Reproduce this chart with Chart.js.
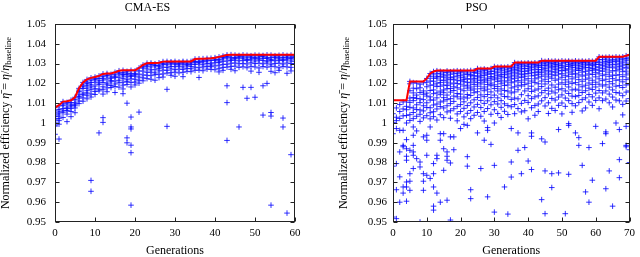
<!DOCTYPE html>
<html>
<head>
<meta charset="utf-8">
<script src="https://cdn.jsdelivr.net/npm/chart.js@4"></script>
<style>
html, body { margin: 0; padding: 0; background: #fff; }
#wrap { position: relative; width: 640px; height: 257px; }
.box { position: absolute; top: 0; width: 320px; height: 257px; }
</style>
</head>
<body>
<div id="wrap">
  <div class="box" style="left:0"><canvas id="cmaChart" width="320" height="257"></canvas></div>
  <div class="box" style="left:320px"><canvas id="psoChart" width="320" height="257"></canvas></div>
</div>
<script>
// values are in thousandths above 1.000 (e.g. 25 -> 1.025)

// CMA-ES: best so far, one per generation 0..60
const cmaBest = [
  7.7, 9.0, 10.8, 11.0, 11.5, 13.0, 17.5, 20.5, 22.0, 22.8,
  23.2, 23.8, 24.8, 25.0, 25.0, 25.6, 26.4, 26.6, 26.6, 26.6,
  26.6, 27.8, 29.3, 30.2, 30.3, 30.3, 30.4, 31.0, 31.1, 31.1,
  31.1, 31.1, 31.1, 31.1, 31.1, 32.3, 32.4, 32.5, 32.6, 32.7,
  33.0, 33.4, 33.8, 34.4, 34.5, 34.5, 34.5, 34.5, 34.5, 34.5,
  34.5, 34.5, 34.5, 34.5, 34.5, 34.5, 34.5, 34.5, 34.5, 34.5,
  34.5
];

// CMA-ES: population per generation
const cmaPop = [
  [7.7, 6.2, 4.1, 3.3, 1.6, 0.4, -1.1, -1.6, -5.7, 5.1, 2.4],
  [8.6, 6.8, 4.6, 2.2, 1.2, -0.6, -8.1, 5.6, 3.5],
  [10.8, 8.9, 7.3, 5.4, 2.8, 9.6, 6.1],
  [10.4, 9.7, 8.0, 6.3, 4.5, 0.7, 7.2],
  [11.5, 10.3, 9.1, 7.4, 5.8, 8.6, 3.2],
  [13.0, 11.8, 10.2, 8.7, 5.2, 9.5, 7.6],
  [17.5, 15.9, 14.2, 12.6, 11.1, 9.8, 16.6, 13.4],
  [20.5, 19.2, 17.4, 15.1, 14.3, 12.7, 11.0, 18.3],
  [22.0, 20.7, 18.8, 17.6, 15.2, 14.0, 12.2, 19.9, 16.3],
  [22.8, 21.6, 19.3, 18.2, 16.8, 14.7, 13.1, -29, -34.5, 20.4],
  [23.2, 21.9, 20.6, 18.7, 17.3, 15.9, 14.4, 22.4],
  [23.8, 22.5, 20.2, 19.4, 17.1, 16.2, -5, 21.3],
  [24.8, 23.4, 21.7, 20.5, 18.3, 16.8, 14.6, 2.7, 0.3, 22.6],
  [25.0, 23.9, 22.2, 20.1, 19.3, 17.7, 15.8, 24.2],
  [24.6, 23.2, 22.6, 20.8, 18.9, 17.9, 21.4],
  [25.6, 24.3, 22.9, 21.2, 19.7, 18.4, 15.4, 23.6],
  [26.4, 24.8, 23.1, 21.6, 20.3, 18.1, 25.3],
  [26.6, 25.4, 23.8, 22.4, 20.6, 19.1, 17.2, 14.8, 24.5],
  [26.1, 25.2, 23.3, 21.8, 20.9, 19.4, 10, -7.5, -10, 24.6],
  [26.6, 24.9, 23.6, 22.3, 20.4, 18.2, 3, -2, -3, -11.2, -41.5, -15, 24.1],
  [26.3, 25.1, 23.7, 22.1, 20.7, 19.2, 24.4],
  [27.8, 26.3, 24.7, 23.2, 21.6, 20.1, 5.5],
  [29.3, 27.8, 26.2, 24.3, 22.8, 21.3, 28.4],
  [30.2, 28.7, 27.3, 25.6, 24.1, 22.4, 29.3],
  [30.3, 28.3, 26.8, 25.7, 23.9, 22.1, 29.6],
  [29.9, 28.9, 27.1, 25.3, 24.4, 21.6, 29.2],
  [30.4, 29.1, 27.6, 26.3, 24.6, 22.9, 28.4],
  [31.0, 29.6, 28.2, 26.7, 24.8, 23.2, 30.1],
  [31.1, 29.4, 28.1, 26.6, 25.2, 17, -1.7, 30.4],
  [30.9, 29.9, 28.6, 27.3, 25.4, 24.1, 30.5],
  [31.1, 29.7, 28.4, 26.9, 25.7, 23.6, 30.3],
  [30.8, 30.1, 28.7, 27.2, 25.3, 29.4],
  [31.1, 29.8, 28.3, 27.1, 25.6, 23.4, 30.6],
  [31.0, 30.2, 28.9, 27.6, 26.1, 29.5],
  [31.1, 30.4, 28.6, 27.4, 25.9, 29.7],
  [32.3, 31.1, 29.6, 28.2, 26.6, 30.7],
  [32.4, 31.2, 29.8, 27.9, 26.7, 23, 30.6],
  [32.5, 31.4, 29.4, 28.3, 26.4, 30.9],
  [32.6, 31.3, 30.1, 28.6, 27.2, 31.9],
  [32.7, 31.6, 30.2, 28.4, 27.1, 29.3],
  [33.0, 31.7, 30.4, 28.8, 26.9, 32.2],
  [33.4, 32.1, 30.6, 29.2, 27.6, 25.8, 31.3],
  [33.8, 32.4, 31.2, 29.6, 28.1, 26.6, 33.1],
  [34.4, 32.9, 31.3, 29.7, 28.2, 18.8, 10.3, -8.8, 33.6],
  [34.5, 33.2, 31.6, 30.2, 28.6, 27.1, 32.3],
  [34.3, 33.1, 31.8, 30.3, 28.7, 26.4, 32.6],
  [34.1, 32.9, 31.4, 29.9, 28.1, -2, 33.5],
  [34.4, 32.7, 31.7, 30.1, 28.4, 18, 33.4],
  [34.2, 33.3, 31.5, 29.8, 27.9, 12.5, 32.1],
  [34.0, 32.8, 31.9, 30.4, 28.6, 26.2, 18, 33.4],
  [34.3, 33.1, 31.3, 30.0, 28.3, 13, 32.5],
  [34.2, 33.4, 31.8, 30.2, 27.8, 25.6, 32.4],
  [34.1, 32.7, 31.6, 29.9, 28.5, 18.8, 4, 33.6],
  [34.4, 33.0, 31.2, 30.3, 28.2, 20, 32.6],
  [34.3, 33.2, 31.6, 29.7, 28.7, 26.1, 5.3, 3.5, -41.5, 32.1],
  [34.0, 32.9, 31.4, 30.1, 28.4, 25.4, 33.3],
  [34.2, 33.3, 31.7, 30.2, 27.9, 26.6, 32.4],
  [34.4, 33.1, 31.5, 29.8, 28.6, 2.5, -2, 32.2],
  [34.1, 32.8, 31.9, 30.3, 28.3, 25.1, -45.5, 33.4],
  [34.3, 33.2, 31.3, 30.0, 28.1, 26.3, -16, 32.6],
  [34.2, 33.1, 32.2, 31.2, 30.1, 33.6]
];

// PSO: best so far, one per generation 0..70
const psoBest = [
  11.5, 11.5, 11.5, 11.5, 11.5, 21, 21, 21, 21, 21,
  22.5, 25, 26, 26.5, 26.5, 26.5, 26.5, 26.5, 26.5, 26.5,
  26.5, 26.5, 26.5, 26.5, 26.5, 27.5, 27.5, 27.5, 27.5, 27.5,
  28.5, 28.5, 28.5, 28.5, 28.5, 28.5, 30.5, 30.5, 30.5, 30.5,
  30.5, 30.5, 30.5, 30.5, 31.5, 31.5, 31.5, 31.5, 31.5, 31.5,
  31.5, 31.5, 31.5, 31.5, 31.5, 31.5, 31.5, 31.5, 31.5, 31.5,
  31.5, 33.4, 33.4, 33.4, 33.4, 33.4, 33.4, 33.4, 33.4, 34,
  34.5
];

// PSO: swarm per generation
const psoPop = [
  [11.5, 4.7, 0.3, -5.4, -20.5, -21.8, -47.5],
  [7.6, 2.9, -2.8, -20.5, -33.7, -48.3, 1.2],
  [9.3, 5.8, 2.3, -3.7, -14.6, -40, -27.2],
  [10.6, 7.1, 3.6, -3.7, -11.3, -12, -32.3, -35.4],
  [11.2, 8.4, 6.7, 3.8, 0, -8.4, -13, -16.8, -18.8, -29.8, -32.3, -39.5],
  [21, 19.8, 16.3, 12.6, 10.4, 7.9, 4.2, 1.3, -13.8, -25.6, -29.4, -34],
  [20.4, 17.6, 15.2, 12.9, 11.3, 7.6, 5.3, 2.2, -2, -6.2, -11.3, -14.6, -16.3, -23],
  [20.1, 17.3, 14.1, 12.4, 9.2, 6.8, 3.4, -4, -18],
  [19.6, 17.8, 15.4, 12.2, 10.3, 6.6, 4.4, 0.8, -19.7, -22.2, -50],
  [20.3, 16.2, 14.5, 11.8, 8.7, 6.1, 2.6, -7, -25.6, -29.4, -34],
  [22.5, 20.6, 18.3, 15.1, 13.6, 10.2, 7.8, 3.7, -6.2, -8.7, -16.3, -26.4],
  [25, 23.4, 21.2, 19.1, 16.4, 13.2, 11.6, 7.7, 5.2, 2.1, -2, -28],
  [26, 24.3, 22.6, 21.1, 19.2, 16.7, 14.8, 11.6, 9.1, 5.7, 3.2, -20.5, -25.6, -32.3, -42, -44],
  [26.4, 25.1, 23.4, 22.7, 20.1, 18.4, 15.2, 12.7, 9.6, 7.1, 1.5, -16.3, -18, -35.4],
  [26.1, 24.8, 23.6, 21.7, 20.4, 18.6, 16.1, 14.3, 10.6, 8.3, 4.2, -5.4, -8.7, -40],
  [25.7, 24.3, 23.1, 21.4, 19.2, 16.7, 15.3, 12.8, 11.1, 7.6, 2.7, -5.4, -13, -23.9],
  [26.3, 25.4, 23.8, 22.2, 20.6, 18.9, 17.3, 14.1, 11.8, 8.7, 5.6, -14.6, -16.8, -18.8, -39],
  [25.9, 24.6, 22.9, 21.8, 19.7, 17.4, 15.6, 12.3, 9.8, 6.2, 2.4, -7, -20.2, -49],
  [26.2, 25.2, 23.3, 22.1, 20.2, 18.3, 16.4, 13.6, 10.9, 7.2, -7, -13.5],
  [26.4, 24.9, 23.7, 21.6, 19.9, 17.8, 14.9, 13.2, 8.4, 4.6, 1.1],
  [26.1, 25.6, 24.1, 22.8, 21.3, 19.6, 17.1, 14.6, 12.2, 9.3, 5.8, -2.8],
  [26.3, 24.7, 23.2, 21.9, 20.8, 18.7, 16.3, 13.1, 10.7, 7.4, 3.1, -0.7],
  [26.2, 25.3, 24.4, 22.4, 20.6, 19.1, 17.6, 14.4, 12.6, 8.8, 4.9, -1.2, -17, -21.8],
  [26.5, 24.6, 23.8, 22.1, 20.3, 18.2, 16.6, 13.9, 10.2, 6.3, 2.2, -33.7, -38.2],
  [26.3, 25.5, 23.9, 22.6, 21.2, 19.4, 17.2, 15.3, 11.7, 8.1, 3.9],
  [27.5, 26.3, 25.1, 23.6, 22.2, 20.4, 18.6, 15.8, 12.9, 9.4, 5.3, -5],
  [27.1, 25.8, 24.2, 23.1, 21.4, 19.7, 17.3, 14.2, 11.4, 7.8, 3.4, -23],
  [27.3, 26.6, 25.2, 23.9, 22.1, 20.6, 18.2, 16.3, 13.3, 9.9, 5.8, 1, -8.7],
  [26.9, 25.7, 24.6, 22.7, 21.3, 19.4, 17.1, 14.4, 11.2, 7.3, -2.3, -3.7, -37.3],
  [27.5, 26.1, 24.9, 23.4, 22.3, 20.2, 18.8, 15.7, 12.8, 9.2, 4.4, -10.8],
  [28.5, 27.4, 26.2, 24.8, 23.2, 21.8, 19.3, 17.4, 14.1, 10.8, 6.7, 0, -21.4, -45],
  [28.2, 27.1, 25.6, 24.1, 22.6, 20.9, 18.4, 16.2, 12.7, 9.6, 4.8],
  [28.3, 27.6, 26.3, 24.6, 23.4, 21.6, 19.8, 17.2, 14.6, 11.3, 7.9, 2.8],
  [28.1, 26.8, 25.4, 24.3, 22.8, 20.7, 18.9, 16.4, 13.4, 9.7, 5.9, -32.3],
  [28.4, 27.3, 26.1, 24.7, 23.1, 21.3, 19.2, 16.1, 13.2, 8.8, 4.3, -46],
  [28.2, 27.7, 26.4, 25.2, 23.7, 22.2, 20.3, 17.7, 15.2, 11.9, 8.2, -2.8, -19.7, -27.3],
  [30.5, 29.4, 28.3, 27.1, 25.7, 24.2, 22.6, 20.8, 18.3, 15.7, 12.6, 9.3, 4.7],
  [30.1, 29.2, 27.8, 26.6, 25.1, 23.3, 21.4, 19.1, 16.8, 12.2, 7.3, -5, -13.8],
  [30.3, 29.6, 28.4, 27.3, 25.9, 24.4, 22.9, 20.6, 18.7, 14.3, 9.9, 5.6, -25.6],
  [30.2, 28.9, 27.6, 26.2, 24.8, 23.6, 21.7, 19.4, 16.2, 11.4, 6.2, -12.4],
  [30.4, 29.7, 28.6, 27.4, 26.3, 24.9, 22.4, 20.1, 17.3, 13.8, 10.4, 2.1, -19.2],
  [30.1, 29.3, 28.1, 26.8, 25.3, 23.8, 21.2, 18.6, 15.9, 12.3, 7.7, -5, -6.7, -23.5],
  [30.4, 29.5, 28.7, 27.2, 25.6, 24.1, 22.3, 20.4, 16.6, 13.2, 8.8, 3.9],
  [30.2, 29.1, 28.2, 26.9, 25.8, 24.6, 22.8, 19.8, 17.2, 13.7, 9.6, 5.8],
  [31.5, 30.4, 29.3, 28.2, 26.9, 25.4, 23.6, 21.2, 18.4, 15.3, 11.2, -8, -38.7],
  [31.1, 30.2, 29.1, 27.6, 26.2, 24.3, 22.1, 19.7, 16.4, 12.8, 8.6, -9.6, -24.2, -45.8],
  [31.4, 30.6, 29.4, 28.3, 26.7, 25.2, 23.3, 20.9, 17.6, 14.7, 10.2, 4.8],
  [31.2, 30.1, 28.8, 27.8, 26.1, 24.4, 22.6, 19.2, 16.1, 12.4, 7.4, -25.6, -32.6],
  [31.3, 30.5, 29.6, 28.4, 27.1, 25.6, 23.9, 21.6, 18.1, 15.2, 11.6, 6.3],
  [31.1, 29.8, 28.9, 27.7, 26.3, 24.7, 22.2, 19.6, 16.8, 13.1, 8.9, -3.3, -25.2],
  [31.4, 30.3, 29.2, 28.1, 26.6, 24.9, 23.1, 20.3, 17.3, 14.2, 10.1, 4.6],
  [31.2, 30.4, 28.7, 27.3, 26.4, 24.1, 21.8, 19.5, 16.2, 12.6, 8.4, -45.8],
  [31.3, 30.7, 29.5, 28.6, 27.2, 25.3, 23.4, 20.7, 18.2, 14.9, 11.3, -0.3, -1.2, -25.9],
  [31.1, 30.1, 29.1, 27.9, 26.2, 24.6, 22.3, 19.9, 16.7, 13.6, 9.8, 5.4],
  [31.4, 30.5, 29.4, 28.2, 26.8, 25.1, 23.2, 20.4, 17.1, 13.3, 8.7, -5],
  [31.2, 30.2, 28.9, 27.6, 26.5, 24.3, 21.9, 19.3, 16.6, 13.9, 10.3, -7.4, -11.3],
  [31.3, 30.6, 29.7, 28.4, 27.3, 25.7, 23.7, 21.1, 18.3, 15.4, 11.8, 6.1, -21.4],
  [31.1, 30.3, 29.2, 27.9, 26.1, 24.2, 22.1, 19.1, 16.3, 12.7, 7.6, -34.8],
  [31.4, 30.4, 29.5, 28.1, 26.7, 24.8, 22.7, 20.2, 17.6, 14.4, 10.6, -12.4, -40],
  [31.2, 29.9, 29.0, 27.5, 26.4, 24.5, 21.6, 19.4, 16.9, 13.2, 8.9, -28.9],
  [31.3, 30.5, 29.6, 28.3, 27.1, 25.4, 23.3, 20.6, 18.2, 15.1, 11.4, -1.7],
  [33.4, 32.1, 30.8, 29.6, 28.2, 26.6, 24.8, 22.3, 19.6, 16.4, 12.7, 7.2],
  [33.1, 31.9, 30.4, 29.1, 27.6, 26.1, 23.9, 21.4, 18.7, 15.2, 11.3, -10.4],
  [33.2, 32.3, 31.1, 29.8, 28.4, 26.8, 24.6, 22.1, 19.3, 16.2, 12.1, -4.5, -5.4, -33.2],
  [33.3, 31.7, 30.6, 29.3, 27.9, 25.7, 23.6, 20.9, 18.1, 14.6, 10.2, -24.2],
  [33.1, 32.2, 31.2, 29.7, 28.3, 26.4, 24.2, 22.4, 19.8, 16.7, 13.1, 8.1, -42],
  [33.4, 31.8, 30.9, 29.4, 27.8, 26.3, 24.1, 21.6, 18.6, 15.4, 11.6, 0],
  [33.2, 32.4, 31.3, 29.9, 28.6, 26.9, 24.4, 21.8, 18.9, 15.1, 11.2, -3.3, -18.5, -27.6],
  [33.4, 32.2, 30.7, 29.2, 27.7, 25.9, 23.4, 20.8, 17.9, 13.8, 9.4, 4.1],
  [34, 32.6, 31.4, 29.7, 28.1, 26.2, 24.3, 21.9, 19.2, 15.6, 11.1, -1.7, -11.3, -12],
  [34.5, 33.2, 31.9, 30.3, 28.8, 27.4, 25.2, 22.7, 19.7, 16.2, 12.3, -13.5, -20]
];

const titles = ["CMA-ES", "PSO"];
const xMaxes = [60, 70];
const serif = '"Liberation Serif", "Times New Roman", serif';

function toPoints(pop) {
  const pts = [];
  pop.forEach((vals, g) => vals.forEach(v => pts.push({x: g, y: 1 + v / 1000})));
  return pts;
}

function toLine(best) {
  return best.map((v, g) => ({x: g, y: 1 + v / 1000}));
}

// box around the plot with inward ticks on all four sides
const framePlugin = {
  id: "frame",
  afterDraw(chart) {
    const {ctx, chartArea: a, scales: {x, y}} = chart;
    const l = Math.round(a.left) + 0.5, r = Math.round(a.right) - 0.5;
    const t = Math.round(a.top) + 0.5, b = Math.round(a.bottom) - 0.5;
    ctx.save();
    ctx.strokeStyle = "#222";
    ctx.lineWidth = 1;
    ctx.beginPath();
    x.ticks.forEach(tk => {
      const px = Math.round(x.getPixelForValue(tk.value)) + 0.5;
      ctx.moveTo(px, b); ctx.lineTo(px, b - 4);
      ctx.moveTo(px, t); ctx.lineTo(px, t + 4);
    });
    y.ticks.forEach(tk => {
      const py = Math.round(y.getPixelForValue(tk.value)) + 0.5;
      ctx.moveTo(l, py); ctx.lineTo(l + 4, py);
      ctx.moveTo(r, py); ctx.lineTo(r - 4, py);
    });
    ctx.stroke();
    ctx.strokeRect(l, t, r - l, b - t);
    ctx.restore();
  }
};

// rotated y title with the subscript
const ylabelPlugin = {
  id: "ylabel",
  afterDraw(chart, args, opts) {
    const {ctx, chartArea: a} = chart;
    const parts = [
      {t: "Normalized efficiency ", f: "12px " + serif, dy: 0},
      {t: "\u03B7\u0304", f: "italic 12px " + serif, dy: 0},
      {t: " = ", f: "12px " + serif, dy: 0},
      {t: "\u03B7", f: "italic 12px " + serif, dy: 0},
      {t: "/", f: "12px " + serif, dy: 0},
      {t: "\u03B7", f: "italic 12px " + serif, dy: 0},
      {t: "baseline", f: "8.5px " + serif, dy: 3}
    ];
    ctx.save();
    ctx.translate(opts.x, (a.top + a.bottom) / 2);
    ctx.rotate(-Math.PI / 2);
    ctx.fillStyle = "#000";
    ctx.textBaseline = "middle";
    ctx.textAlign = "left";
    let w = 0;
    parts.forEach(p => { ctx.font = p.f; p.w = ctx.measureText(p.t).width; w += p.w; });
    let cx = -w / 2;
    parts.forEach(p => { ctx.font = p.f; ctx.fillText(p.t, cx, p.dy); cx += p.w; });
    ctx.restore();
  }
};

function makeChart(id, i, pop, best, box) {
  return new Chart(document.getElementById(id), {
    type: "scatter",
    data: {
      datasets: [
        {
          type: "line",
          data: toLine(best),
          borderColor: "#ff0000",
          borderWidth: 2,
          pointRadius: 0,
          fill: false,
          tension: 0,
          order: 0
        },
        {
          data: toPoints(pop),
          pointStyle: "cross",
          pointRadius: 2.8,
          borderColor: "rgba(0,0,255,0.8)",
          backgroundColor: "rgba(0,0,255,0)",
          borderWidth: 1,
          order: 1
        }
      ]
    },
    options: {
      responsive: false,
      animation: false,
      devicePixelRatio: 1,
      layout: {padding: {left: 0, right: box.right, top: 0, bottom: 0}},
      plugins: {
        legend: {display: false},
        tooltip: {enabled: false},
        title: {
          display: true,
          text: titles[i],
          color: "#000",
          font: {family: serif, size: 12, weight: "normal", lineHeight: 1.2},
          padding: {top: 1, bottom: 8.6}
        },
        ylabel: {x: box.labelX}
      },
      scales: {
        x: {
          type: "linear",
          min: 0,
          max: xMaxes[i],
          ticks: {stepSize: 10, color: "#000", font: {family: serif, size: 11}, padding: 5, maxRotation: 0},
          grid: {display: false, drawTicks: false},
          border: {display: false},
          title: {
            display: true,
            text: "Generations",
            color: "#000",
            font: {family: serif, size: 12, lineHeight: 1},
            padding: {top: 0, bottom: 0}
          },
          afterFit(s) { s.height = 35; }
        },
        y: {
          min: 0.95,
          max: 1.05,
          ticks: {
            stepSize: 0.01,
            color: "#000",
            font: {family: serif, size: 11},
            padding: box.tickPad,
            callback: v => String(+v.toFixed(2))
          },
          grid: {display: false, drawTicks: false},
          border: {display: false},
          afterFit(s) { s.width = box.left; }
        }
      }
    },
    plugins: [framePlugin, ylabelPlugin]
  });
}

makeChart("cmaChart", 0, cmaPop, cmaBest, {left: 55, right: 25, tickPad: 9, labelX: 5.5});
makeChart("psoChart", 1, psoPop, psoBest, {left: 73, right: 7, tickPad: 6, labelX: 24});
</script>
</body>
</html>
